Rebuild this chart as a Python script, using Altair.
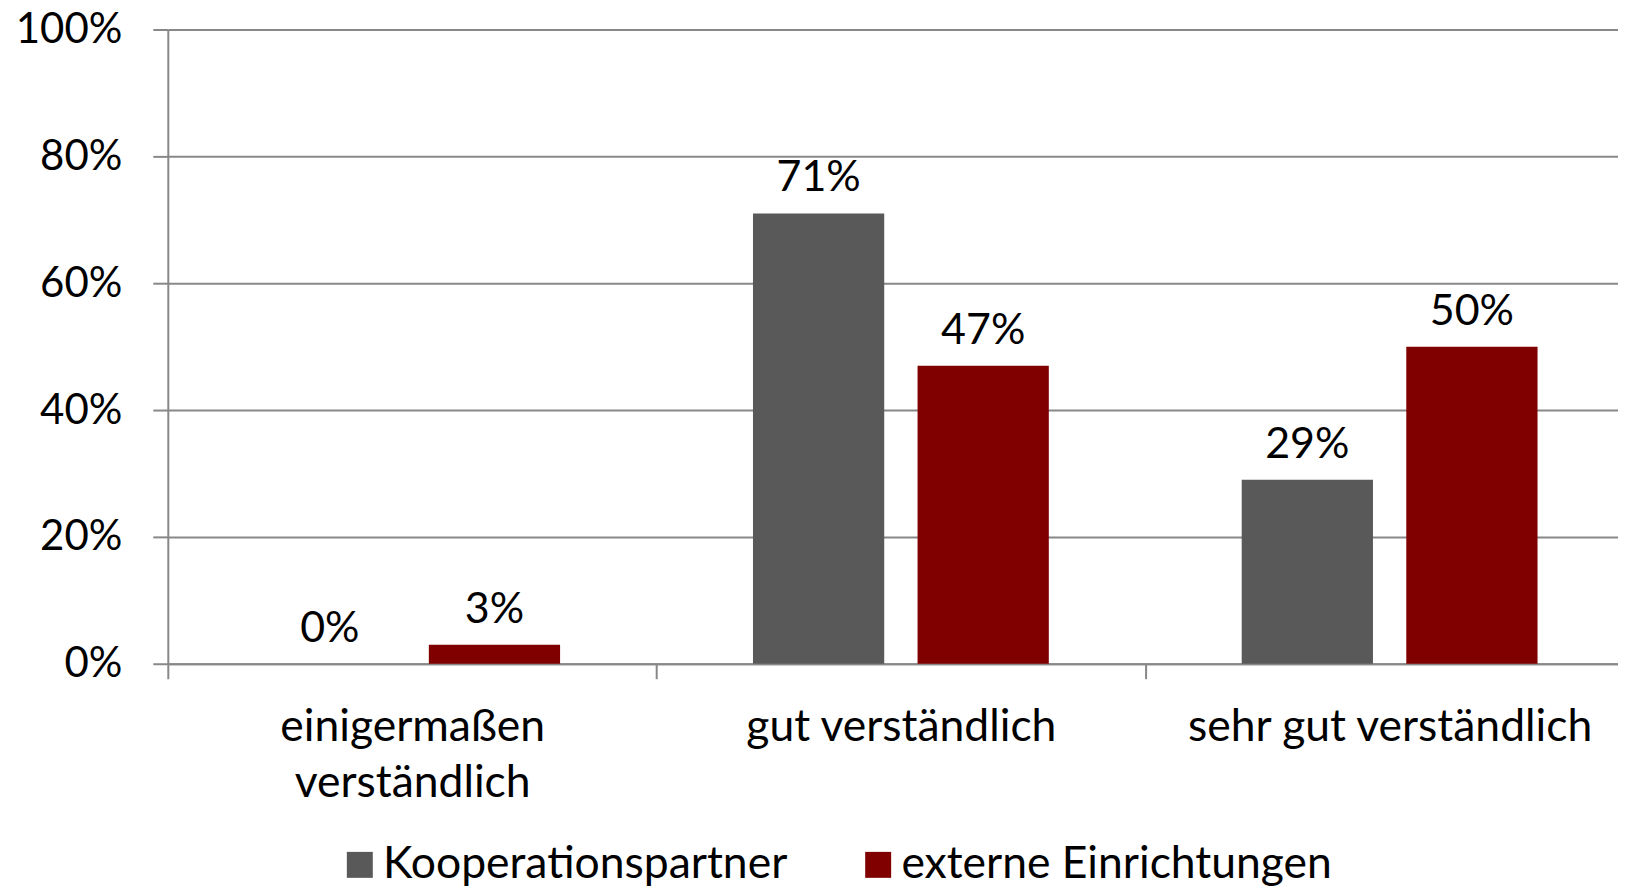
import altair as alt
import pandas as pd

categories = ["einigermaßen\nverständlich", "gut verständlich", "sehr gut verständlich"]
series = ["Kooperationspartner", "externe Einrichtungen"]
kooperation = [0, 71, 29]
extern = [3, 47, 50]
y_ticks = [0, 20, 40, 60, 80, 100]
colors = ["#595959", "#800000"]

rows = []
for c, k, e in zip(categories, kooperation, extern):
    rows.append({"cat": c, "series": series[0], "value": k})
    rows.append({"cat": c, "series": series[1], "value": e})
df = pd.DataFrame(rows)

FONT = "Lato"
FS_NUM = 42
FS_DATA = 43
FS_TXT = 44.5
GRID = "#888888"

x_enc = alt.X(
    "cat:N",
    sort=categories,
    scale=alt.Scale(paddingInner=0, paddingOuter=0, range=[0, 1468]),
    axis=alt.Axis(
        title=None,
        labelAngle=0,
        labelExpr="split(datum.label, '\\n')",
        labelLineHeight=56,
        labelPadding=27,
        labelLimit=0,
        tickBand="extent",
        tickSize=15,
        tickColor=GRID,
        tickWidth=2,
        domainColor=GRID,
        domainWidth=2,
        labelFont=FONT,
        labelFontSize=FS_TXT,
        labelColor="black",
        grid=False,
    ),
)
xoff = alt.XOffset(
    "series:N",
    sort=series,
    scale=alt.Scale(paddingInner=0.2025, paddingOuter=0.586),
)
y_enc = alt.Y(
    "value:Q",
    scale=alt.Scale(domain=[0, 100], nice=False),
    axis=alt.Axis(
        title=None,
        values=y_ticks,
        labelExpr="datum.value + '%'",
        tickSize=15,
        tickColor=GRID,
        tickWidth=2,
        domainColor=GRID,
        domainWidth=2,
        gridColor=GRID,
        gridWidth=2,
        labelPadding=31,
        labelFont=FONT,
        labelFontSize=FS_NUM,
        labelColor="black",
    ),
)

base = alt.Chart(df)

bars = base.mark_bar().encode(
    x=x_enc,
    xOffset=xoff,
    y=y_enc,
    color=alt.Color(
        "series:N",
        sort=series,
        scale=alt.Scale(domain=series, range=colors),
        legend=alt.Legend(
            title=None,
            orient="none",
            legendX=170,
            legendY=814,
            direction="horizontal",
            symbolType="square",
            symbolSize=676,
            symbolStrokeWidth=0,
            labelFont=FONT,
            labelFontSize=FS_TXT,
            labelColor="black",
            labelOffset=1,
            columnPadding=68,
            labelLimit=0,
        ),
    ),
)

labels = base.mark_text(
    font=FONT, fontSize=FS_DATA, color="black", baseline="alphabetic", dy=-22
).encode(
    x=alt.X("cat:N", sort=categories),
    xOffset=xoff,
    y=alt.Y("value:Q"),
    text=alt.Text("label:N"),
).transform_calculate(label="datum.value + '%'")

chart = (
    alt.layer(bars, labels)
    .properties(
        width=1452,
        height=635,
        autosize=alt.AutoSizeParams(type="none"),
        padding={"left": 160, "top": 21, "right": 0, "bottom": 226},
    )
    .configure_view(stroke=None)
)

chart.save("out.html", embed_options={"renderer": "svg", "actions": False})
